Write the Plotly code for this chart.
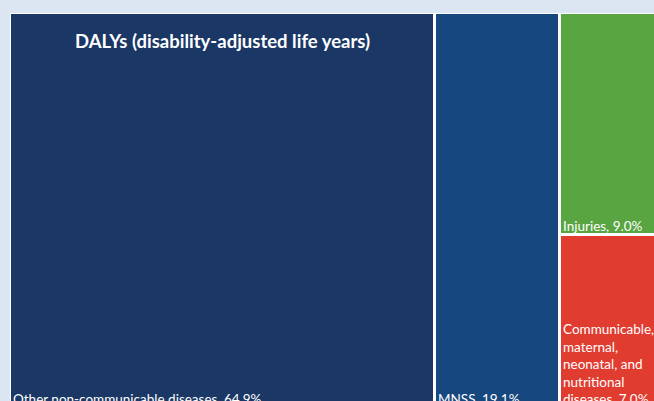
import plotly.graph_objects as go

# ---- data ----
categories = [
    "Other non-communicable diseases",
    "MNSS",
    "Injuries",
    "Communicable, maternal, neonatal, and nutritional diseases",
]
label_text = [
    "Other non-communicable diseases, 64.9%",
    "MNSS, 19.1%",
    "Injuries, 9.0%",
    "Communicable,<br>maternal,<br>neonatal, and<br>nutritional<br>diseases, 7.0%",
]
values = [64.9, 19.1, 9.0, 7.0]
columns = ["Other NCD", "MNSS", "Rest", "Rest"]
colors = ["#1a3765", "#16477f", "#58a541", "#e03c30"]
title_text = "DALYs (disability-adjusted life years)"

BG = "#dbe6f2"

# ---- marimekko layout from the values ----
col_order = []
for c in columns:
    if c not in col_order:
        col_order.append(c)
col_tot = {c: sum(v for v, cc in zip(values, columns) if cc == c) for c in col_order}
col_start = {}
acc = 0.0
for c in col_order:
    col_start[c] = acc
    acc += col_tot[c]

xs, widths, heights, bases = [], [], [], []
top_acc = {c: 100.0 for c in col_order}
for v, c in zip(values, columns):
    h = v / col_tot[c] * 100.0
    top_acc[c] -= h
    xs.append(col_start[c] + col_tot[c] / 2)
    widths.append(col_tot[c])
    heights.append(h)
    bases.append(top_acc[c])

total = sum(values)
xr = [0, total * 644 / 655]
yr = [100 * 7 / 395, 100]

fig = go.Figure()
fig.add_trace(go.Bar(
    x=xs, y=heights, base=bases, width=widths,
    marker=dict(color=colors, line=dict(color="white", width=3)),
    hovertext=categories, hoverinfo="text",
    showlegend=False,
))

FONT = "Lato"
annotations = []
for i, (v, c) in enumerate(zip(values, columns)):
    annotations.append(dict(
        x=(col_start[c] - xr[0]) / (xr[1] - xr[0]),
        y=(bases[i] - yr[0]) / (yr[1] - yr[0]),
        xref="paper", yref="paper",
        xanchor="left", yanchor="bottom", xshift=1, yshift=-1,
        text=label_text[i], showarrow=False, align="left",
        font=dict(family=FONT, size=13.5, color="white"),
    ))
annotations.append(dict(
    x=col_start["Other NCD"] + col_tot["Other NCD"] / 2, y=1, xref="x", yref="paper",
    xanchor="center", yanchor="top", yshift=-15,
    text="<b>" + title_text + "</b>", showarrow=False,
    font=dict(family=FONT, size=18.5, color="white"),
))

fig.update_layout(
    width=654, height=401,
    margin=dict(l=10, r=0, t=13, b=0),
    paper_bgcolor=BG, plot_bgcolor=BG,
    bargap=0,
    xaxis=dict(range=xr, visible=False, fixedrange=True),
    yaxis=dict(range=yr, visible=False, fixedrange=True),
    annotations=annotations,
)
fig.write_html(
    "out.html",
    config={"displayModeBar": False},
    post_script="document.body.style.margin='0';document.body.style.background='" + BG + "';",
)
